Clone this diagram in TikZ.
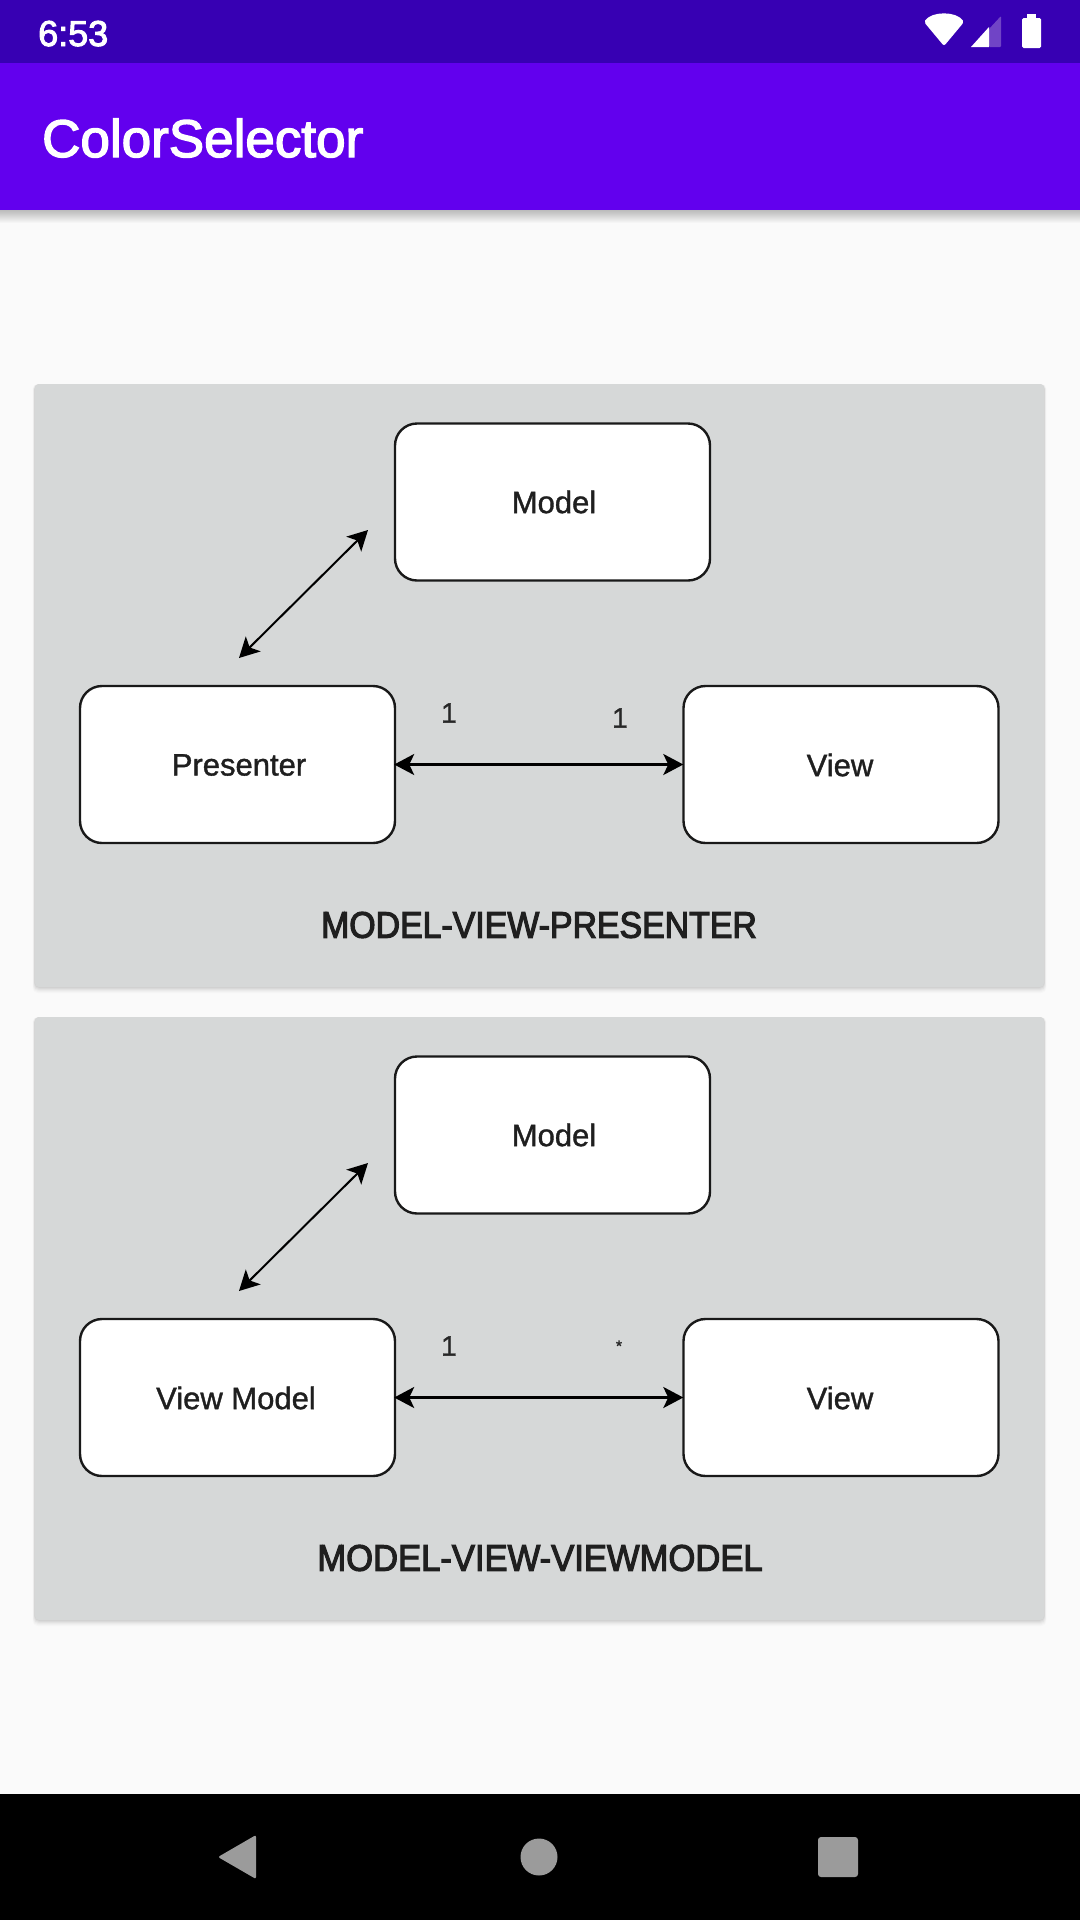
\documentclass[tikz,border=0pt]{standalone}
\usepackage{fontspec}
\setmainfont{Liberation Sans}
\newfontfamily\uifont[FakeBold=2.6]{Liberation Sans}
\newfontfamily\capfont[FakeBold=3,FakeStretch=0.915]{Liberation Sans}
\newfontfamily\capwidefont[FakeBold=3,FakeStretch=0.935]{Liberation Sans}
\newfontfamily\blockfont[FakeBold=1.2]{Liberation Sans}
\usetikzlibrary{arrows.meta}
\definecolor{pagebg}{HTML}{FAFAFA}
\definecolor{statusbar}{HTML}{3700B3}
\definecolor{appbar}{HTML}{6200EE}
\definecolor{cardbg}{HTML}{D6D8D8}
\definecolor{navicon}{HTML}{9B9B9B}
\definecolor{capink}{HTML}{1F1F1F}
\definecolor{signalbg}{HTML}{7044C6}
\tikzset{
  x=1pt,y=-1pt,
  card/.style={fill=cardbg,rounded corners=4pt,draw=none},
  block/.style={draw=black!90,line width=2.4pt,fill=white,rounded corners=22pt,minimum width=315pt,minimum height=157pt,inner sep=0pt},
  blocktext/.style={text=black!88,inner sep=0pt,font=\blockfont\fontsize{31}{36}\selectfont},
  multi/.style={text=black!85,inner sep=0pt,font=\blockfont\fontsize{28}{32}\selectfont},
  caption/.style={text=capink,inner sep=0pt,font=\capfont\fontsize{37}{42}\selectfont},
  linkdiag/.style={draw=black,line width=2pt,{Stealth[length=20pt,width=21pt,inset=5pt]}-{Stealth[length=20pt,width=21pt,inset=5pt]}},
  linkflat/.style={draw=black,line width=2.8pt,{Stealth[length=20pt,width=21pt,inset=5pt]}-{Stealth[length=20pt,width=21pt,inset=5pt]}},
  uitext/.style={text=white,inner sep=0pt,anchor=base west},
}
\begin{document}
\begin{tikzpicture}
\useasboundingbox (0,0) rectangle (1080,1920);
\fill[pagebg] (0,0) rectangle (1080,1920);
% app bar shadow
\foreach \d in {1,2,...,13}{
  \fill[black,opacity=.018] (0,210) rectangle (1080,210+\d);
}
\fill[appbar] (0,63) rectangle (1080,210);
\fill[statusbar] (0,0) rectangle (1080,63);
\node[uitext,font=\uifont\fontsize{36}{40}\selectfont] (clock) at (38,46) {6:53};
\node[uitext,font=\uifont\fontsize{53}{58}\selectfont] (apptitle) at (42,157) {ColorSelector};
% status icons
\fill[white,rounded corners=2pt] (944,46) -- (924,22) .. controls (932,11) and (956,11) .. (964,22) -- cycle;
\fill[signalbg,rounded corners=1pt] (989,47) -- (989,29) -- (1001,16) -- (1001,47) -- cycle;
\fill[white] (971,47) -- (989,27) -- (989,47) -- cycle;
\fill[white,rounded corners=1.5pt] (1022,48) rectangle (1041,18);
\fill[white] (1027,14) rectangle (1036,20);
% cards
\foreach \t/\b in {384/987,1017/1620}{
  \foreach \d/\o in {6/.015,5/.02,4/.025,3/.03,2/.035,1/.04}{
    \fill[black,opacity=\o,rounded corners=5pt] (35-\d*.4,\t) rectangle (1044+\d*.4,\b+\d);
  }
  \fill[card] (35,\t) rectangle (1044,\b);
}
% first diagram
\node[block] (modelA) at (552.5,502) {};
\node[block] (presenter) at (237.5,764.5) {};
\node[block] (viewA) at (841,764.5) {};
\node[blocktext] (modelAtext) at (554,502) {Model};
\node[blocktext] (presentertext) at (239,765) {Presenter};
\node[blocktext] (viewAtext) at (840,765) {View};
\coordinate (diagAtop) at (368,530);
\coordinate (diagAbot) at (239,658);
\draw[linkdiag] (diagAbot) -- (diagAtop);
\draw[linkflat,shorten <=-2pt,shorten >=-1pt] (presenter.east) -- (viewA.west);
\node[multi] (oneAl) at (449,713) {1};
\node[multi] (oneAr) at (620,718) {1};
\node[caption] (captionA) at (539,925) {MODEL-VIEW-PRESENTER};
% second diagram
\node[block] (modelB) at (552.5,1135) {};
\node[block] (viewmodel) at (237.5,1397.5) {};
\node[block] (viewB) at (841,1397.5) {};
\node[blocktext] (modelBtext) at (554,1135) {Model};
\node[blocktext] (viewmodeltext) at (236,1398) {View Model};
\node[blocktext] (viewBtext) at (840,1398) {View};
\coordinate (diagBtop) at (368,1163);
\coordinate (diagBbot) at (239,1291);
\draw[linkdiag] (diagBbot) -- (diagBtop);
\draw[linkflat,shorten <=-2pt,shorten >=-1pt] (viewmodel.east) -- (viewB.west);
\node[multi] (oneB) at (449,1346) {1};
\node[multi,font=\blockfont\fontsize{16}{18}\selectfont] (manyB) at (619,1346) {*};
\node[caption,font=\capwidefont\fontsize{37}{42}\selectfont] (captionB) at (540,1558) {MODEL-VIEW-VIEWMODEL};
% nav bar
\fill[black] (0,1794) rectangle (1080,1920);
\fill[navicon,rounded corners=2pt] (256,1835) -- (256,1879) -- (218,1857) -- cycle;
\fill[navicon] (539,1857) circle [radius=18.5];
\fill[navicon,rounded corners=3pt] (818,1837) rectangle (858,1877);
\end{tikzpicture}
\end{document}
